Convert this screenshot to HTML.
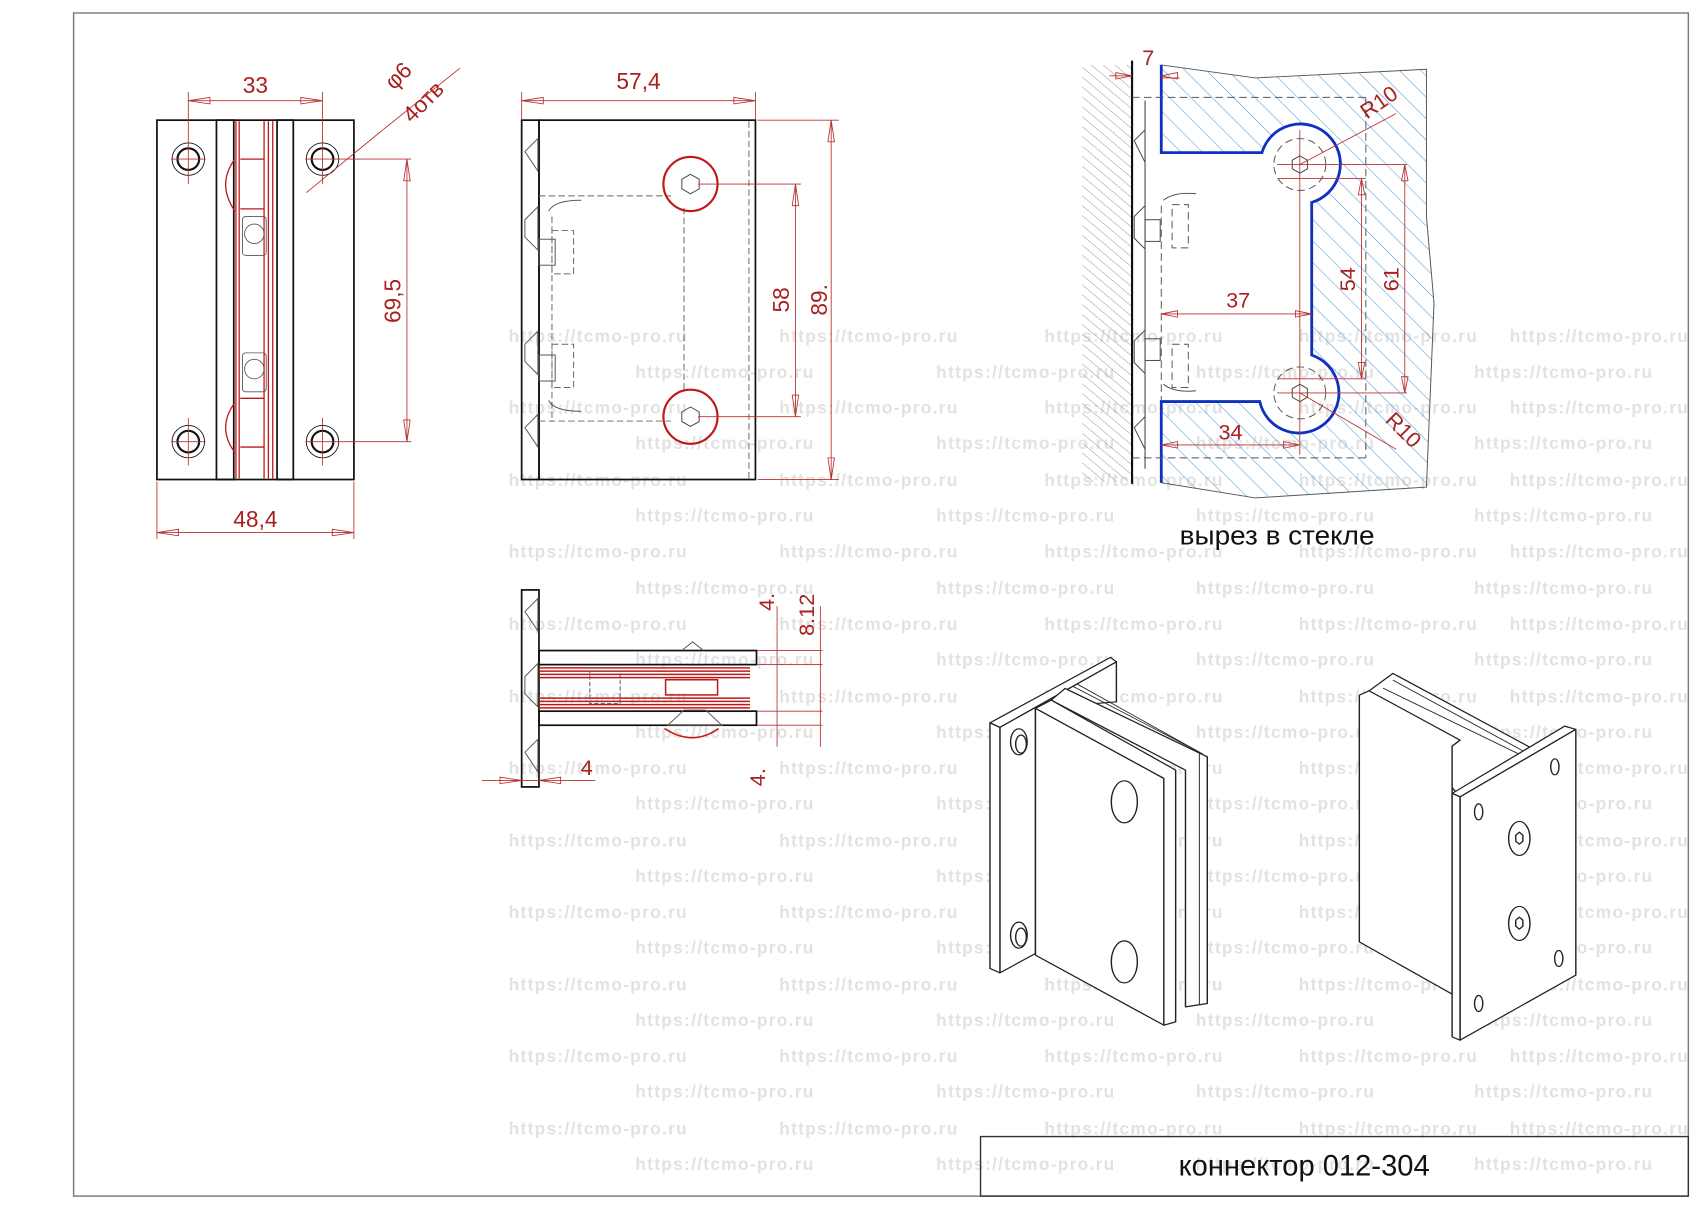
<!DOCTYPE html>
<html><head><meta charset="utf-8"><style>html,body{margin:0;padding:0;background:#fff}svg{display:block}</style></head>
<body>
<svg xmlns="http://www.w3.org/2000/svg" width="1697" height="1208" viewBox="0 0 1568 1116" preserveAspectRatio="none" font-family="'Liberation Sans','DejaVu Sans',sans-serif">
<defs>
<pattern id="wh" width="7" height="7" patternUnits="userSpaceOnUse" patternTransform="rotate(-50)"><line x1="0" y1="0" x2="0" y2="7" stroke="#888" stroke-width="0.8"/></pattern>
<pattern id="gh" width="14" height="14" patternUnits="userSpaceOnUse" patternTransform="rotate(-45)"><line x1="0" y1="0" x2="0" y2="14" stroke="#4aa0d8" stroke-width="1"/></pattern>
</defs>
<rect width="1568" height="1116" fill="#fff"/>
<g fill="#e2e2e2" font-weight="bold" font-size="16" letter-spacing="1.2">
<text y="316"><tspan x="470">https://tcmo-pro.ru</tspan><tspan x="720">https://tcmo-pro.ru</tspan><tspan x="965">https://tcmo-pro.ru</tspan><tspan x="1200">https://tcmo-pro.ru</tspan><tspan x="1395">https://tcmo-pro.ru</tspan></text>
<text y="349"><tspan x="587">https://tcmo-pro.ru</tspan><tspan x="865">https://tcmo-pro.ru</tspan><tspan x="1105">https://tcmo-pro.ru</tspan><tspan x="1362">https://tcmo-pro.ru</tspan></text>
<text y="382"><tspan x="470">https://tcmo-pro.ru</tspan><tspan x="720">https://tcmo-pro.ru</tspan><tspan x="965">https://tcmo-pro.ru</tspan><tspan x="1200">https://tcmo-pro.ru</tspan><tspan x="1395">https://tcmo-pro.ru</tspan></text>
<text y="415"><tspan x="587">https://tcmo-pro.ru</tspan><tspan x="865">https://tcmo-pro.ru</tspan><tspan x="1105">https://tcmo-pro.ru</tspan><tspan x="1362">https://tcmo-pro.ru</tspan></text>
<text y="449"><tspan x="470">https://tcmo-pro.ru</tspan><tspan x="720">https://tcmo-pro.ru</tspan><tspan x="965">https://tcmo-pro.ru</tspan><tspan x="1200">https://tcmo-pro.ru</tspan><tspan x="1395">https://tcmo-pro.ru</tspan></text>
<text y="482"><tspan x="587">https://tcmo-pro.ru</tspan><tspan x="865">https://tcmo-pro.ru</tspan><tspan x="1105">https://tcmo-pro.ru</tspan><tspan x="1362">https://tcmo-pro.ru</tspan></text>
<text y="515"><tspan x="470">https://tcmo-pro.ru</tspan><tspan x="720">https://tcmo-pro.ru</tspan><tspan x="965">https://tcmo-pro.ru</tspan><tspan x="1200">https://tcmo-pro.ru</tspan><tspan x="1395">https://tcmo-pro.ru</tspan></text>
<text y="549"><tspan x="587">https://tcmo-pro.ru</tspan><tspan x="865">https://tcmo-pro.ru</tspan><tspan x="1105">https://tcmo-pro.ru</tspan><tspan x="1362">https://tcmo-pro.ru</tspan></text>
<text y="582"><tspan x="470">https://tcmo-pro.ru</tspan><tspan x="720">https://tcmo-pro.ru</tspan><tspan x="965">https://tcmo-pro.ru</tspan><tspan x="1200">https://tcmo-pro.ru</tspan><tspan x="1395">https://tcmo-pro.ru</tspan></text>
<text y="615"><tspan x="587">https://tcmo-pro.ru</tspan><tspan x="865">https://tcmo-pro.ru</tspan><tspan x="1105">https://tcmo-pro.ru</tspan><tspan x="1362">https://tcmo-pro.ru</tspan></text>
<text y="649"><tspan x="470">https://tcmo-pro.ru</tspan><tspan x="720">https://tcmo-pro.ru</tspan><tspan x="965">https://tcmo-pro.ru</tspan><tspan x="1200">https://tcmo-pro.ru</tspan><tspan x="1395">https://tcmo-pro.ru</tspan></text>
<text y="682"><tspan x="587">https://tcmo-pro.ru</tspan><tspan x="865">https://tcmo-pro.ru</tspan><tspan x="1105">https://tcmo-pro.ru</tspan><tspan x="1362">https://tcmo-pro.ru</tspan></text>
<text y="715"><tspan x="470">https://tcmo-pro.ru</tspan><tspan x="720">https://tcmo-pro.ru</tspan><tspan x="965">https://tcmo-pro.ru</tspan><tspan x="1200">https://tcmo-pro.ru</tspan><tspan x="1395">https://tcmo-pro.ru</tspan></text>
<text y="748"><tspan x="587">https://tcmo-pro.ru</tspan><tspan x="865">https://tcmo-pro.ru</tspan><tspan x="1105">https://tcmo-pro.ru</tspan><tspan x="1362">https://tcmo-pro.ru</tspan></text>
<text y="782"><tspan x="470">https://tcmo-pro.ru</tspan><tspan x="720">https://tcmo-pro.ru</tspan><tspan x="965">https://tcmo-pro.ru</tspan><tspan x="1200">https://tcmo-pro.ru</tspan><tspan x="1395">https://tcmo-pro.ru</tspan></text>
<text y="815"><tspan x="587">https://tcmo-pro.ru</tspan><tspan x="865">https://tcmo-pro.ru</tspan><tspan x="1105">https://tcmo-pro.ru</tspan><tspan x="1362">https://tcmo-pro.ru</tspan></text>
<text y="848"><tspan x="470">https://tcmo-pro.ru</tspan><tspan x="720">https://tcmo-pro.ru</tspan><tspan x="965">https://tcmo-pro.ru</tspan><tspan x="1200">https://tcmo-pro.ru</tspan><tspan x="1395">https://tcmo-pro.ru</tspan></text>
<text y="881"><tspan x="587">https://tcmo-pro.ru</tspan><tspan x="865">https://tcmo-pro.ru</tspan><tspan x="1105">https://tcmo-pro.ru</tspan><tspan x="1362">https://tcmo-pro.ru</tspan></text>
<text y="915"><tspan x="470">https://tcmo-pro.ru</tspan><tspan x="720">https://tcmo-pro.ru</tspan><tspan x="965">https://tcmo-pro.ru</tspan><tspan x="1200">https://tcmo-pro.ru</tspan><tspan x="1395">https://tcmo-pro.ru</tspan></text>
<text y="948"><tspan x="587">https://tcmo-pro.ru</tspan><tspan x="865">https://tcmo-pro.ru</tspan><tspan x="1105">https://tcmo-pro.ru</tspan><tspan x="1362">https://tcmo-pro.ru</tspan></text>
<text y="981"><tspan x="470">https://tcmo-pro.ru</tspan><tspan x="720">https://tcmo-pro.ru</tspan><tspan x="965">https://tcmo-pro.ru</tspan><tspan x="1200">https://tcmo-pro.ru</tspan><tspan x="1395">https://tcmo-pro.ru</tspan></text>
<text y="1014"><tspan x="587">https://tcmo-pro.ru</tspan><tspan x="865">https://tcmo-pro.ru</tspan><tspan x="1105">https://tcmo-pro.ru</tspan><tspan x="1362">https://tcmo-pro.ru</tspan></text>
<text y="1048"><tspan x="470">https://tcmo-pro.ru</tspan><tspan x="720">https://tcmo-pro.ru</tspan><tspan x="965">https://tcmo-pro.ru</tspan><tspan x="1200">https://tcmo-pro.ru</tspan><tspan x="1395">https://tcmo-pro.ru</tspan></text>
<text y="1081"><tspan x="587">https://tcmo-pro.ru</tspan><tspan x="865">https://tcmo-pro.ru</tspan><tspan x="1105">https://tcmo-pro.ru</tspan><tspan x="1362">https://tcmo-pro.ru</tspan></text>
</g>
<rect x="68" y="12" width="1492" height="1093" fill="none" stroke="#777" stroke-width="1.3"/>
<rect x="906" y="1050" width="654" height="55" fill="none" stroke="#333" stroke-width="1.3"/>
<text x="1205" y="1086" font-size="27" text-anchor="middle" textLength="232" lengthAdjust="spacingAndGlyphs" fill="#111">коннектор 012-304</text>

<!-- LEFT VIEW -->
<g fill="none" stroke="#111" stroke-width="1.6">
<rect x="145" y="111" width="182" height="332"/>
<rect x="200" y="111" width="16" height="332"/>
<rect x="256" y="111" width="15" height="332"/>
</g>
<g fill="none" stroke="#c01818" stroke-width="1.2">
<line x1="218" y1="112" x2="218" y2="442"/><line x1="221" y1="112" x2="221" y2="442"/>
<line x1="244" y1="112" x2="244" y2="442"/><line x1="248" y1="112" x2="248" y2="442"/><line x1="252" y1="112" x2="252" y2="442"/>
<path d="M217 147 Q200 170 217 195 M217 372 Q200 395 217 418"/>
<line x1="222" y1="147" x2="244" y2="147"/><line x1="222" y1="193" x2="244" y2="193"/><line x1="222" y1="368" x2="244" y2="368"/><line x1="222" y1="413" x2="244" y2="413"/>
</g>
<g fill="none" stroke="#555" stroke-width="0.8">
<rect x="224" y="200" width="22" height="36" rx="3"/><circle cx="235" cy="216" r="9"/>
<rect x="224" y="326" width="22" height="36" rx="3"/><circle cx="235" cy="341" r="9"/>
</g>
<g fill="none" stroke="#111">
<circle cx="174" cy="147" r="15" stroke-width="0.8"/><circle cx="174" cy="147" r="10" stroke-width="2"/>
<circle cx="298" cy="147" r="15" stroke-width="0.8"/><circle cx="298" cy="147" r="10" stroke-width="2"/>
<circle cx="174" cy="408" r="15" stroke-width="0.8"/><circle cx="174" cy="408" r="10" stroke-width="2"/>
<circle cx="298" cy="408" r="15" stroke-width="0.8"/><circle cx="298" cy="408" r="10" stroke-width="2"/>
</g>
<g stroke="#b83030" stroke-width="0.8" fill="none">
<line x1="174" y1="85" x2="174" y2="170"/><line x1="298" y1="85" x2="298" y2="170"/><line x1="174" y1="386" x2="174" y2="430"/><line x1="298" y1="386" x2="298" y2="430"/>
<line x1="158" y1="147" x2="190" y2="147"/><line x1="282" y1="147" x2="380" y2="147"/><line x1="158" y1="408" x2="190" y2="408"/><line x1="282" y1="408" x2="380" y2="408"/>
<line x1="174" y1="93" x2="298" y2="93"/><path d="M174 93 l20 -3 v6z M298 93 l-20 -3 v6z"/>
<line x1="376" y1="147" x2="376" y2="408"/><path d="M376 147 l-3 20 h6z M376 408 l-3 -20 h6z"/>
<line x1="145" y1="445" x2="145" y2="498"/><line x1="327" y1="445" x2="327" y2="498"/>
<line x1="145" y1="492" x2="327" y2="492"/><path d="M145 492 l20 -3 v6z M327 492 l-20 -3 v6z"/>
<line x1="283" y1="178" x2="350" y2="123"/><line x1="350" y1="123" x2="425" y2="63"/>
</g>
<g fill="#a82020" font-size="21">
<text x="236" y="86" text-anchor="middle">33</text>
<text x="236" y="487" text-anchor="middle">48,4</text>
<text transform="translate(370,278) rotate(-90)" text-anchor="middle">69,5</text>
<text transform="translate(373,75) rotate(-45)" text-anchor="middle">φ6</text>
<text transform="translate(396,99) rotate(-45)" text-anchor="middle">4отв</text>
</g>

<!-- MIDDLE VIEW -->
<g fill="none" stroke="#111" stroke-width="1.6">
<rect x="482" y="111" width="16" height="332"/>
<rect x="498" y="111" width="200" height="332"/>
</g>
<g fill="none" stroke="#666" stroke-width="0.9" stroke-dasharray="6,3">
<line x1="498" y1="181" x2="620" y2="181"/><line x1="498" y1="389" x2="620" y2="389"/>
<line x1="510" y1="200" x2="510" y2="390"/><line x1="692" y1="112" x2="692" y2="442"/>
<path d="M632 192 V360"/>
<rect x="510" y="213" width="20" height="40"/><rect x="510" y="318" width="20" height="40"/>
</g>
<g fill="none" stroke="#555" stroke-width="0.9">
<path d="M485 140 l12 -12 v30z M485 203 l12 -12 v40 l-12 -12z M485 318 l12 -12 v40 l-12 -12z M485 395 l12 -12 v30z"/>
<rect x="498" y="221" width="15" height="24"/><rect x="498" y="328" width="15" height="24"/>
<path d="M507 195 q5 -10 30 -10 M507 370 q5 10 30 10"/>
</g>
<g stroke="#c01818" fill="none" stroke-width="2">
<circle cx="638" cy="170" r="25"/><circle cx="638" cy="385" r="25"/>
</g>
<g stroke="#444" fill="none" stroke-width="0.9">
<path d="M638 161 l8 4.5 v9 l-8 4.5 l-8 -4.5 v-9z M638 376 l8 4.5 v9 l-8 4.5 l-8 -4.5 v-9z"/>
</g>
<g stroke="#b83030" stroke-width="0.8" fill="none">
<line x1="482" y1="85" x2="482" y2="111"/><line x1="698" y1="85" x2="698" y2="111"/>
<line x1="482" y1="93" x2="698" y2="93"/><path d="M482 93 l20 -3 v6z M698 93 l-20 -3 v6z"/>
<line x1="645" y1="170" x2="740" y2="170"/><line x1="645" y1="385" x2="740" y2="385"/>
<line x1="735" y1="170" x2="735" y2="385"/><path d="M735 170 l-3 20 h6z M735 385 l-3 -20 h6z"/>
<line x1="700" y1="111" x2="775" y2="111"/><line x1="700" y1="443" x2="775" y2="443"/>
<line x1="768" y1="111" x2="768" y2="443"/><path d="M768 111 l-3 20 h6z M768 443 l-3 -20 h6z"/>
</g>
<g fill="#a82020" font-size="21">
<text x="590" y="82" text-anchor="middle">57,4</text>
<text transform="translate(729,277) rotate(-90)" text-anchor="middle">58</text>
<text transform="translate(764,277) rotate(-90)" text-anchor="middle">89.</text>
</g>

<!-- SIDE VIEW -->
<g fill="none" stroke="#111" stroke-width="1.6">
<rect x="482" y="545" width="16" height="182"/>
<rect x="498" y="601" width="201" height="13"/>
<rect x="498" y="657" width="201" height="13"/>
</g>
<g fill="none" stroke="#c01818" stroke-width="1.4">
<line x1="498" y1="617" x2="693" y2="617"/><line x1="498" y1="620" x2="693" y2="620"/><line x1="498" y1="623" x2="693" y2="623"/><line x1="498" y1="626" x2="693" y2="626"/>
<line x1="498" y1="645" x2="693" y2="645"/><line x1="498" y1="648" x2="693" y2="648"/><line x1="498" y1="651" x2="693" y2="651"/><line x1="498" y1="654" x2="693" y2="654"/>
<rect x="615" y="628" width="48" height="14"/>
<path d="M664 673 Q640 690 614 673"/>
</g>
<g fill="none" stroke="#555" stroke-width="0.9">
<path d="M485 565 l12 -12 v30z M485 625 l12 -12 v40 l-12 -12z M485 695 l12 -12 v30z"/>
<path d="M630 601 l10 -8 l10 8 M617 670 h50 l-15 -14 h-20z"/>
<rect x="545" y="620" width="28" height="30" stroke-dasharray="4,2"/>
</g>
<g stroke="#b83030" stroke-width="0.8" fill="none">
<line x1="700" y1="601" x2="760" y2="601"/><line x1="700" y1="614" x2="760" y2="614"/><line x1="700" y1="657" x2="760" y2="657"/><line x1="700" y1="670" x2="760" y2="670"/>
<line x1="718" y1="560" x2="718" y2="690"/><line x1="758" y1="560" x2="758" y2="690"/>
<line x1="445" y1="721" x2="550" y2="721"/><path d="M482 721 l-20 -3 v6z M498 721 l20 -3 v6z"/>
</g>
<g fill="#a82020" font-size="20">
<text transform="translate(715,556) rotate(-90)" text-anchor="middle">4.</text>
<text transform="translate(752,568) rotate(-90)" text-anchor="middle">8.12</text>
<text x="542" y="716" text-anchor="middle">4</text>
<text transform="translate(707,718) rotate(-90)" text-anchor="middle">4.</text>
</g>

<!-- GLASS CUTOUT -->
<rect x="1000" y="60" width="46" height="385" fill="url(#wh)"/>
<line x1="1046" y1="56" x2="1046" y2="447" stroke="#111" stroke-width="2"/>
<line x1="1058" y1="93" x2="1058" y2="433" stroke="#333" stroke-width="0.9"/>
<path d="M1073 60 L1160 72 L1318 64 L1318 200 L1325 280 L1318 450 L1160 460 L1073 446 L1073 371 L1164 371 A37 37 0 1 0 1212 328 L1212 187 A37 37 0 1 0 1166 141 L1073 141 Z" fill="url(#gh)" stroke="#555" stroke-width="0.9"/>
<path d="M1073 60 L1073 141 L1166 141 A37 37 0 1 1 1212 187 L1212 328 A37 37 0 1 1 1164 371 L1073 371 L1073 446" fill="none" stroke="#1030c0" stroke-width="2.6"/>
<g fill="none" stroke="#555" stroke-width="0.9" stroke-dasharray="7,4">
<line x1="1046" y1="90" x2="1262" y2="90"/><line x1="1046" y1="423" x2="1262" y2="423"/><line x1="1262" y1="90" x2="1262" y2="423"/>
<line x1="1073" y1="190" x2="1073" y2="370"/>
<circle cx="1201" cy="152" r="24"/><circle cx="1201" cy="363" r="24"/>
<rect x="1083" y="189" width="15" height="40"/><rect x="1083" y="318" width="15" height="40"/>
</g>
<g fill="none" stroke="#444" stroke-width="0.9">
<path d="M1201 144 l7 4 v8 l-7 4 l-7 -4 v-8z M1201 355 l7 4 v8 l-7 4 l-7 -4 v-8z"/>
<path d="M1048 130 l10 -10 v30z M1048 200 l10 -10 v40 l-10 -10z M1048 315 l10 -10 v40 l-10 -10z M1048 395 l10 -10 v30z"/>
<rect x="1058" y="203" width="14" height="20"/><rect x="1058" y="313" width="14" height="20"/>
<path d="M1075 185 q10 -8 30 -6 M1075 355 q10 8 30 6"/>
</g>
<g stroke="#b83030" stroke-width="0.8" fill="none">
<line x1="1025" y1="70" x2="1046" y2="70"/><line x1="1073" y1="72" x2="1090" y2="72"/><path d="M1046 70 l-15 -3 v6z M1073 70 l15 -3 v6z"/>
<line x1="1201" y1="120" x2="1201" y2="420"/>
<line x1="1180" y1="152" x2="1300" y2="152"/><line x1="1180" y1="363" x2="1300" y2="363"/>
<line x1="1181" y1="165" x2="1262" y2="165"/><line x1="1181" y1="350" x2="1262" y2="350"/>
<line x1="1258" y1="165" x2="1258" y2="350"/><path d="M1258 165 l-3 15 h6z M1258 350 l-3 -15 h6z"/>
<line x1="1298" y1="152" x2="1298" y2="363"/><path d="M1298 152 l-3 15 h6z M1298 363 l-3 -15 h6z"/>
<line x1="1073" y1="290" x2="1212" y2="290"/><path d="M1073 290 l15 -3 v6z M1212 290 l-15 -3 v6z"/>
<line x1="1073" y1="411" x2="1201" y2="411"/><path d="M1073 411 l15 -3 v6z M1201 411 l-15 -3 v6z"/>
<line x1="1201" y1="152" x2="1290" y2="105"/><line x1="1201" y1="363" x2="1290" y2="415"/>
</g>
<g fill="#a82020" font-size="20">
<text x="1061" y="60" text-anchor="middle">7</text>
<text x="1144" y="284" text-anchor="middle">37</text>
<text x="1137" y="406" text-anchor="middle">34</text>
<text transform="translate(1252,258) rotate(-90)" text-anchor="middle">54</text>
<text transform="translate(1292,258) rotate(-90)" text-anchor="middle">61</text>
<text transform="translate(1278,100) rotate(-35)" text-anchor="middle">R10</text>
<text transform="translate(1292,402) rotate(45)" text-anchor="middle">R10</text>
</g>
<text x="1180" y="503" font-size="25" text-anchor="middle" textLength="180" lengthAdjust="spacingAndGlyphs" fill="#111">вырез в стекле</text>

<!-- 3D VIEWS -->
<g transform="translate(905,0) scale(1.185,1) translate(-905,0)">
<g transform="scale(0.9240)" fill="#fff" stroke="#222" stroke-width="1.2" stroke-linejoin="round">
<polygon points="988.3,722.7 1090,657.3 1095,661.7 996.7,727.3"/>
<polygon points="996.7,727.3 1095,661.7 1095,701.7 1026.7,708.3 1026.7,953.3 996.7,972.7"/>
<polygon points="988.3,722.7 996.7,727.3 996.7,972.7 988.3,968.3"/>
<polygon points="1051.7,688.3 1171.7,756.7 1171.7,1003.3 1153.3,1006.7 1153.3,770 1040,700"/>
<polyline points="1058,686 1165,752 1165,1005" fill="none" stroke-width="0.8"/>
<polyline points="1062,684 1168,754" fill="none" stroke-width="0.8"/>
<polygon points="1026.7,708.3 1040,700 1145,770 1145,1021.7 1135,1025 1135,778.3"/>
<polygon points="1026.7,708.3 1135,778.3 1135,1025 1026.7,955"/>
<ellipse cx="1012.7" cy="741.7" rx="7" ry="13"/><ellipse cx="1014.5" cy="744" rx="4.5" ry="9"/>
<ellipse cx="1012.7" cy="935" rx="7" ry="13"/><ellipse cx="1014.5" cy="937" rx="4.5" ry="9"/>
<ellipse cx="1101.7" cy="801.7" rx="11" ry="21"/><ellipse cx="1101.7" cy="961.7" rx="11" ry="21"/>

<polygon points="1308.3,690.7 1328.3,673.3 1443.3,746.7 1443.3,760 1385,796.7"/>
<polyline points="1328.3,680 1440,752" fill="none" stroke-width="0.8"/><polyline points="1320,688 1440,757" fill="none" stroke-width="0.8"/>
<polygon points="1300,695 1308.3,690.7 1385,740 1378.3,746 1378.3,994 1300,941.7"/>
<polygon points="1378.3,793.3 1473.3,726 1482.7,729.3 1385,796.7"/>
<polygon points="1385,796.7 1482.7,729.3 1482.7,975 1385,1040"/>
<polygon points="1378.3,793.3 1385,796.7 1385,1040 1378.3,1036.7"/>
<ellipse cx="1465" cy="766.7" rx="3.5" ry="8"/><ellipse cx="1400.7" cy="811.7" rx="3.5" ry="8"/>
<ellipse cx="1468.3" cy="958.3" rx="3.5" ry="8"/><ellipse cx="1400.7" cy="1003.3" rx="3.5" ry="8"/>
<ellipse cx="1435" cy="838.3" rx="9" ry="17"/><path d="M1435 832 l3 3 v6 l-3 3 l-3 -3 v-6z" fill="none"/>
<ellipse cx="1435" cy="923.3" rx="9" ry="17"/><path d="M1435 917 l3 3 v6 l-3 3 l-3 -3 v-6z" fill="none"/>
</g>
</g>
</svg>
</body></html>
